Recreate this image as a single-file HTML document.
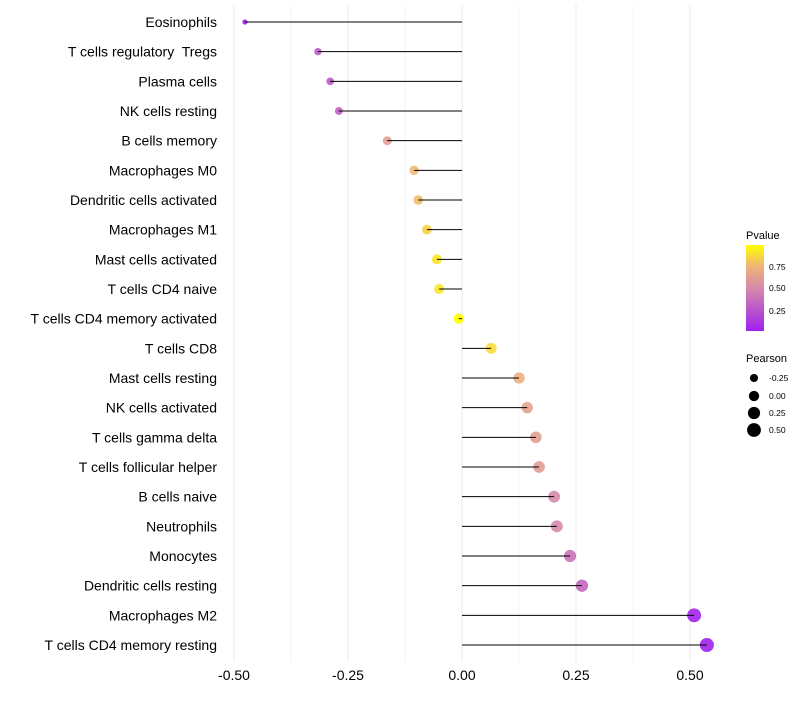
<!DOCTYPE html>
<html><head><meta charset="utf-8"><style>
body{margin:0;background:#fff;font-family:"Liberation Sans",sans-serif}
text{white-space:pre}
</style></head><body>
<svg id="c" width="800" height="700" xmlns="http://www.w3.org/2000/svg">
<defs><linearGradient id="pg" x1="0" y1="1" x2="0" y2="0">
<stop offset="0" stop-color="#a020f0"/><stop offset="0.5" stop-color="#d58aa8"/><stop offset="0.75" stop-color="#f0b478"/><stop offset="1" stop-color="#ffff00"/>
</linearGradient></defs>
<g id="grid"></g><g id="marks"></g><g id="stems"></g><g id="labels"></g><g id="legend"></g>
</svg>
<script>
const categories=["Eosinophils","T cells regulatory  Tregs","Plasma cells","NK cells resting","B cells memory","Macrophages M0","Dendritic cells activated","Macrophages M1","Mast cells activated","T cells CD4 naive","T cells CD4 memory activated","T cells CD8","Mast cells resting","NK cells activated","T cells gamma delta","T cells follicular helper","B cells naive","Neutrophils","Monocytes","Dendritic cells resting","Macrophages M2","T cells CD4 memory resting"];
const pearson=[-0.476,-0.316,-0.289,-0.270,-0.164,-0.105,-0.096,-0.077,-0.055,-0.050,-0.007,0.064,0.125,0.143,0.162,0.169,0.202,0.208,0.237,0.263,0.509,0.537];
const pvalues=[0.02,0.28,0.28,0.3,0.62,0.76,0.78,0.85,0.92,0.92,1.0,0.88,0.72,0.65,0.62,0.61,0.5,0.5,0.38,0.33,0.02,0.01];
const xTicks=[-0.5,-0.25,0,0.25,0.5];
const xTickLabels=["-0.50","-0.25","0.00","0.25","0.50"];
const NS="http://www.w3.org/2000/svg";
function x(v){return 462+v*456;}
function y(i){return 22+i*(623/21);}
function r(p){return Math.sqrt(42*Math.max(0.05,p+0.64));}
const stops=[[0,[160,32,240]],[0.5,[213,138,168]],[0.75,[240,180,120]],[1,[255,255,0]]];
function col(p){
  for(let k=1;k<stops.length;k++){
    if(p<=stops[k][0]||k==stops.length-1){
      const [p0,a]=stops[k-1],[p1,b]=stops[k];const t=Math.min(1,Math.max(0,(p-p0)/(p1-p0)));
      return `rgb(${a.map((v,j)=>Math.round(v+(b[j]-v)*t)).join(",")})`;
    }
  }
}
function mk(tag,at,parent){const e=document.createElementNS(NS,tag);for(const k in at)e.setAttribute(k,at[k]);parent.appendChild(e);return e;}
const G=document.getElementById("grid"),M=document.getElementById("marks"),S=document.getElementById("stems"),L=document.getElementById("labels"),LG=document.getElementById("legend");
for(let v=-0.5;v<=0.5001;v+=0.125){
  const g=mk("line",{x1:x(v),x2:x(v),y1:5,y2:662,stroke:"#ebebeb","stroke-width":Math.abs(v*4-Math.round(v*4))<1e-6?1:0.5},G);
  
  
}
xTicks.forEach((v,i)=>{
  const t=mk("text",{x:x(v),y:680,"text-anchor":"middle","font-size":14,fill:"#000"},L);t.textContent=xTickLabels[i];
  
  
});
categories.forEach((c,i)=>{
  const t=mk("text",{x:217,y:y(i)+5,"text-anchor":"end","font-size":14,fill:"#000"},L);t.textContent=c;
  
  
  const d=mk("circle",{cx:x(pearson[i]),cy:y(i),r:r(pearson[i]),fill:col(pvalues[i]),"fill-opacity":0.9},M);
  
  
  const ln=mk("line",{x1:x(0),x2:x(pearson[i]),y1:y(i),y2:y(i),stroke:"#000","stroke-width":1},S);
  
  
});
let t=mk("text",{x:746,y:239,"font-size":11},LG);t.textContent="Pvalue";


const bar=mk("rect",{x:746,y:245,width:18,height:86,fill:"url(#pg)"},LG);


[[0.75,267],[0.5,288],[0.25,311]].forEach(([v,yy])=>{
  const s=mk("text",{x:769,y:yy+3,"font-size":8.5},LG);s.textContent=v.toFixed(2);
  
  
});
t=mk("text",{x:746,y:362,"font-size":11},LG);t.textContent="Pearson";


[[-0.25,"-0.25",378],[0,"0.00",396],[0.25,"0.25",413],[0.5,"0.50",430]].forEach(([v,lab,yy])=>{
  const c=mk("circle",{cx:754,cy:yy,r:r(v)},LG);
  
  
  const s=mk("text",{x:769,y:yy+3,"font-size":8.5},LG);s.textContent=lab;
  
  
});
</script>
</body></html>
